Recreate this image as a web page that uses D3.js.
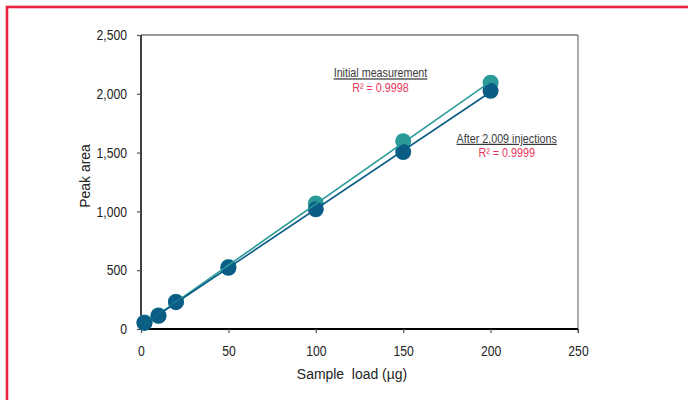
<!DOCTYPE html>
<html><head><meta charset="utf-8">
<script src="https://cdn.jsdelivr.net/npm/d3@7"></script>
<style>
html,body{margin:0;padding:0;background:#fff;}
text{font-family:"Liberation Sans",Arial,sans-serif;}
</style></head>
<body><svg id="c" width="688" height="400"></svg>
<script>
const loads = [2, 10, 20, 50, 100, 150, 200];
const initialArea = [55, 115, 232, 527, 1068, 1597, 2094];
const afterArea   = [52, 112, 228, 520, 1018, 1505, 2025];
const xTicks = [0, 50, 100, 150, 200, 250];
const yTicks = [0, 500, 1000, 1500, 2000, 2500];
const labels = {
  initial: "Initial measurement", initialR2: "R² = 0.9998",
  after: "After 2,009 injections", afterR2: "R² = 0.9999",
  xTitle: "Sample  load (µg)", yTitle: "Peak area"
};

const svg = d3.select("#c");
svg.append("rect").attr("x",7).attr("y",7).attr("width",720).attr("height",440)
  .attr("fill","none").attr("stroke","#e8233f").attr("stroke-width",2.6);

const L=141, R=578, T=35, B=329;
const x = d3.scaleLinear().domain([0,250]).range([L,R]);
const y = d3.scaleLinear().domain([0,2500]).range([B,T]);
const fmt = d3.format(",");

function narrow(sel, s){
  sel.each(function(){
    const t = d3.select(this);
    const tx = +t.attr("x") || 0, ty = +t.attr("y") || 0;
    t.attr("transform",`translate(${tx},${ty}) scale(${s},1) translate(${-tx},${-ty})`);
  });
}

svg.append("line").attr("x1",L).attr("x2",R).attr("y1",T).attr("y2",T).attr("stroke","#777").attr("stroke-width",1.5);
svg.append("line").attr("x1",R).attr("x2",R).attr("y1",T).attr("y2",B+4).attr("stroke","#777").attr("stroke-width",1.2);

const ya = svg.append("g").attr("transform",`translate(${L},0)`)
  .call(d3.axisLeft(y).tickValues(yTicks).tickFormat(fmt).tickSize(4).tickPadding(10));
ya.select(".domain").attr("stroke","#000").attr("stroke-width",1.5).attr("d",`M0,${T}V${B}`);
ya.selectAll(".tick line").attr("stroke","#555").attr("stroke-width",1.2);
ya.selectAll(".tick text").attr("fill","#222").style("font-size","14.5px").call(narrow,0.84);

const xa = svg.append("g").attr("transform",`translate(0,${B})`)
  .call(d3.axisBottom(x).tickValues(xTicks).tickSize(4).tickPadding(13));
xa.select(".domain").attr("stroke","#000").attr("stroke-width",2.2).attr("d",`M${L},0H${R}`);
xa.selectAll(".tick line").attr("stroke","#555").attr("stroke-width",1.2);
xa.selectAll(".tick text").attr("fill","#222").style("font-size","14.5px").call(narrow,0.84);

svg.append("text").attr("x",352).attr("y",379).attr("text-anchor","middle")
  .attr("fill","#222").style("font-size","15.5px").attr("xml:space","preserve").text(labels.xTitle)
  .call(narrow,0.9);
svg.append("text").attr("transform","translate(90,176) rotate(-90) scale(0.9,1)").attr("text-anchor","middle")
  .attr("fill","#222").style("font-size","15.5px").text(labels.yTitle);

function fit(xs, ys){
  const mx=d3.mean(xs), my=d3.mean(ys);
  let sxy=0,sxx=0; xs.forEach((v,i)=>{sxy+=(v-mx)*(ys[i]-my); sxx+=(v-mx)*(v-mx);});
  const b=sxy/sxx, a=my-b*mx; return v=>a+b*v;
}
const series = [
  {vals: initialArea, color:"#2a9b98"},
  {vals: afterArea, color:"#0b5d86"}
];
series.forEach(s=>{
  svg.selectAll(null).data(loads).enter().append("circle")
    .attr("cx",d=>x(d)).attr("cy",(d,i)=>y(s.vals[i])).attr("r",8).attr("fill",s.color);
});
series.forEach(s=>{
  const f = fit(loads, s.vals);
  const x0 = loads[0], x1 = loads[loads.length-1];
  svg.append("line").attr("x1",x(x0)).attr("y1",y(f(x0))).attr("x2",x(x1)).attr("y2",y(f(x1)))
    .attr("stroke",s.color).attr("stroke-width",1.6);
});

function ann(cx, cy, title, r2){
  svg.append("text").attr("x",cx).attr("y",cy).attr("text-anchor","middle")
    .attr("fill","#3a3a3a").style("font-size","12.5px").style("text-decoration","underline").text(title)
    .call(narrow,0.86);
  svg.append("text").attr("x",cx).attr("y",cy+14.5).attr("text-anchor","middle")
    .attr("fill","#e8365a").style("font-size","12.5px").text(r2).call(narrow,0.86);
}
ann(380.5, 77.3, labels.initial, labels.initialR2);
ann(506.7, 142.7, labels.after, labels.afterR2);
</script></body></html>
